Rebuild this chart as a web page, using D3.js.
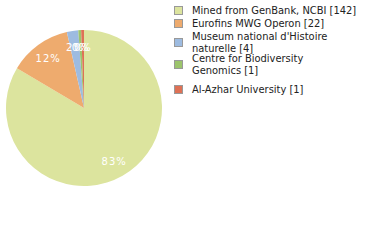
<!DOCTYPE html>
<html><head><meta charset="utf-8">
<script src="https://cdn.jsdelivr.net/npm/d3@7"></script>
<style>body{margin:0;background:#fff}svg{display:block}</style>
</head><body>
<script>
const categories = ["Mined from GenBank, NCBI [142]", "Eurofins MWG Operon [22]", "Museum national d'Histoire naturelle [4]", "Centre for Biodiversity Genomics [1]", "Al-Azhar University [1]"];
const legendLines = [["Mined from GenBank, NCBI [142]"], ["Eurofins MWG Operon [22]"], ["Museum national d'Histoire", "naturelle [4]"], ["Centre for Biodiversity", "Genomics [1]"], ["Al-Azhar University [1]"]];
const values = [142, 22, 4, 1, 1];
const colors = ["#dce49e", "#eeab6e", "#9dbbe0", "#9cc46c", "#de7155"];

const svg = d3.select("body").append("svg").attr("width", 380).attr("height", 240);
const cx = 84, cy = 108, r = 78;
const total = d3.sum(values);
const pie = d3.pie().sort(null)(values);
const arc = d3.arc().innerRadius(0).outerRadius(r);
const labelArc = d3.arc().innerRadius(61).outerRadius(61);
const g = svg.append("g").attr("transform", `translate(${cx},${cy})`);
g.selectAll("path").data(pie).join("path").attr("d", arc).attr("fill", (d, i) => colors[i]);
g.selectAll("text").data(pie).join("text")
  .attr("transform", d => `translate(${labelArc.centroid(d)})`)
  .attr("text-anchor", "middle").attr("dy", "0.35em")
  .attr("font-family", "DejaVu Sans").attr("font-size", 10).attr("letter-spacing", 1).attr("fill", "#fff")
  .text(d => Math.floor(d.value / total * 100) + "%");

const rows = [10, 23, 42, 64, 89];
const lg = svg.append("g");
legendLines.forEach((lines, i) => {
  const y = rows[i];
  lg.append("rect").attr("x", 174.5).attr("y", y - 3.5).attr("width", 8).attr("height", 8)
    .attr("fill", colors[i]).attr("stroke", "#999").attr("stroke-width", 1);
  const n = lines.length;
  lines.forEach((t, j) => {
    lg.append("text").attr("x", 192).attr("y", y + 4 + (j - (n - 1) / 2) * 12.5)
      .attr("font-family", "DejaVu Sans Condensed, DejaVu Sans").attr("font-size", 11).attr("fill", "#222")
      .text(t);
  });
});
</script>
</body></html>
